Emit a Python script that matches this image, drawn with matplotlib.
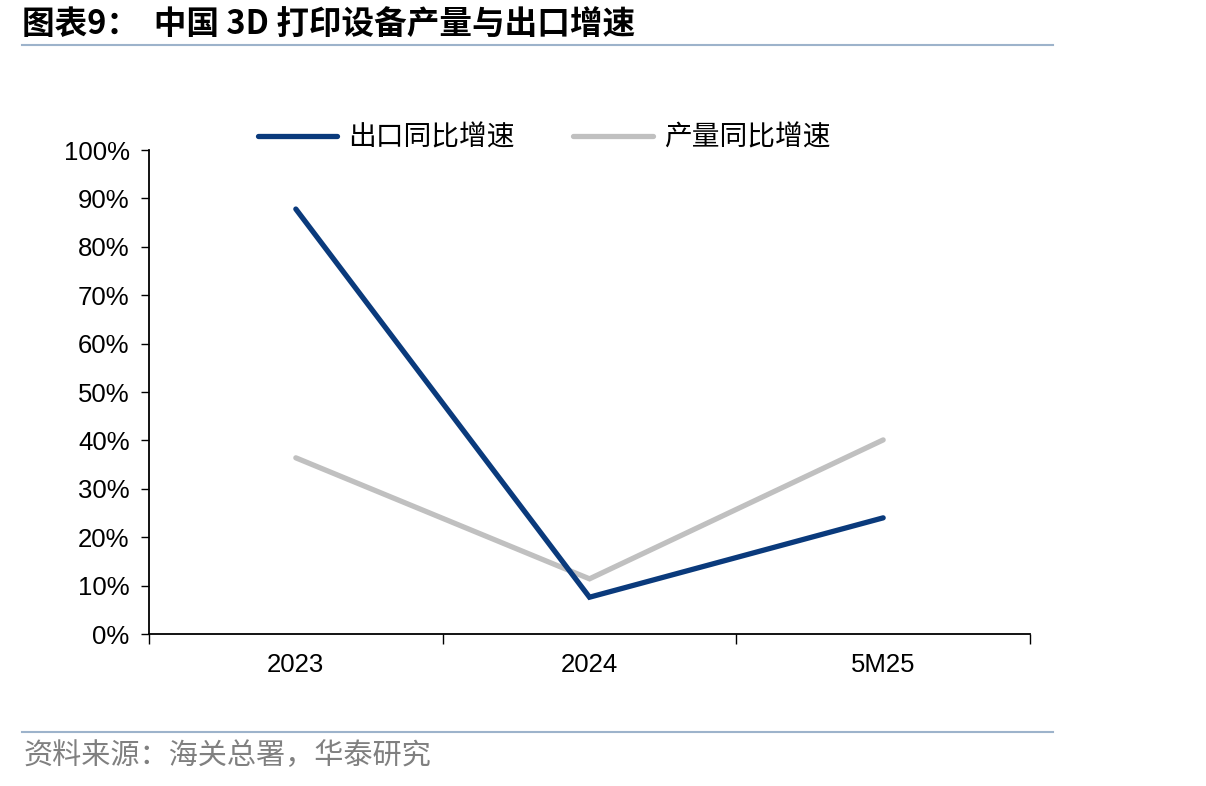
import numpy as np
import matplotlib
matplotlib.use("Agg")
import matplotlib.pyplot as plt
from matplotlib.ticker import FuncFormatter, FixedLocator

plt.rcParams['font.family'] = ['Liberation Sans', 'Noto Sans CJK SC', 'DejaVu Sans']

# ---- data ----
categories = ['2023', '2024', '5M25']
export_growth = [0.878, 0.076, 0.240]      # 出口同比增速
output_growth = [0.364, 0.114, 0.401]      # 产量同比增速
y_ticks = np.arange(0, 1.01, 0.1)

navy = '#0a3a7c'
grey = '#c0c0c0'
rule = '#9db3cb'
cjk = ['Noto Sans CJK SC', 'DejaVu Sans']

fig = plt.figure(figsize=(12.06, 7.86), dpi=100)
ax = fig.add_axes([149/1206, 1 - 634/786, (1030-149)/1206, (634-150)/786])

x = np.arange(len(categories))
ax.plot(x, export_growth, color=navy, lw=3.8, solid_capstyle='round',
        solid_joinstyle='miter', label='出口同比增速', zorder=3)
ax.plot(x, output_growth, color=grey, lw=3.8, solid_capstyle='round',
        solid_joinstyle='miter', label='产量同比增速', zorder=2)

ax.set_ylim(0, 1.0)
ax.set_xlim(-0.5, len(categories) - 0.5)
ax.set_yticks(y_ticks)
ax.yaxis.set_major_formatter(FuncFormatter(lambda v, p: f'{v*100:.0f}%'))
ax.tick_params(axis='y', direction='out', length=6, width=1, labelsize=18.5, pad=8)

# category boundaries as ticks, labels centred
ax.xaxis.set_major_locator(FixedLocator(np.arange(-0.5, len(categories), 1.0)))
ax.xaxis.set_major_formatter(FuncFormatter(lambda v, p: ''))
ax.xaxis.set_minor_locator(FixedLocator(x))
ax.set_xticklabels(categories, minor=True)
ax.tick_params(axis='x', which='major', direction='out', length=7, width=1)
ax.tick_params(axis='x', which='minor', length=0, labelsize=18.5, pad=14)

for s in ['top', 'right']:
    ax.spines[s].set_visible(False)
for s in ['left', 'bottom']:
    ax.spines[s].set_linewidth(1.3)

leg = ax.legend(loc='center left', bbox_to_anchor=(0.124, 1.026), ncol=2,
                frameon=False, prop={'family': cjk, 'size': 20},
                handlelength=2.85, handletextpad=0.4, columnspacing=2.1,
                borderaxespad=0, borderpad=0)

# title and source
fig.text(22/1206, 1 - 24/786, '图表9：  中国 3D 打印设备产量与出口增速',
         family=cjk, fontsize=23.5, fontweight='bold', va='center', ha='left')
fig.add_artist(plt.Line2D([22/1206, 1053/1206], [1 - 45/786, 1 - 45/786],
                          color=rule, lw=1.5))
fig.add_artist(plt.Line2D([22/1206, 1053/1206], [1 - 732/786, 1 - 732/786],
                          color=rule, lw=1.5))
fig.text(24/1206, 1 - 756/786, '资料来源：海关总署，华泰研究',
         family=cjk, fontsize=21, color='#808080', va='center', ha='left')

fig.savefig('out.png', dpi=100)
